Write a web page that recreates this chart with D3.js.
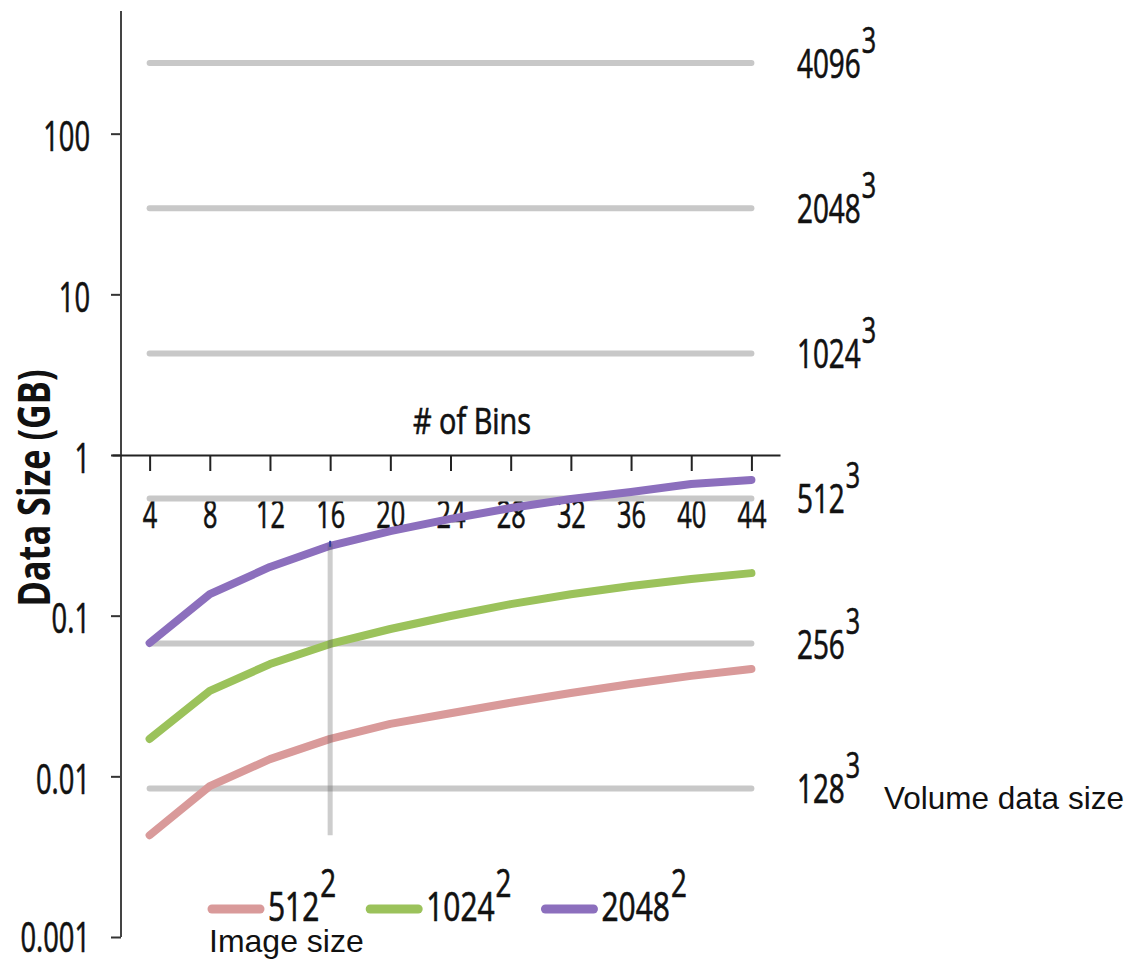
<!DOCTYPE html>
<html>
<head>
<meta charset="utf-8">
<script src="https://cdn.jsdelivr.net/npm/d3@7"></script>
<style>
  body { margin: 0; background: #fff; }
  svg { display: block; }
</style>
</head>
<body>
<div id="chart"></div>
<script>
// # of bins on the x axis
const bins = [4, 8, 12, 16, 20, 24, 28, 32, 36, 40, 44];

// histogram data size (GB) for each image size
const imageSizes = ['512', '1024', '2048'];
const size512  = [0.0043, 0.0087, 0.0128, 0.0171, 0.0212, 0.0247, 0.0287, 0.033, 0.0376, 0.0422, 0.0466];
const size1024 = [0.0171, 0.034, 0.050, 0.0667, 0.0826, 0.0995, 0.118, 0.136, 0.153, 0.169, 0.184];
const size2048 = [0.0676, 0.136, 0.201, 0.272, 0.336, 0.40, 0.468, 0.532, 0.588, 0.66, 0.70];
const seriesColors = ['#d99a9a', '#9bc25b', '#8c6fbd'];

// volume data sizes (GB), drawn as flat reference lines
const volumeLabels = ['128', '256', '512', '1024', '2048', '4096'];
const volumeGB = [0.0084, 0.067, 0.537, 4.29, 34.4, 275];

// y axis ticks
const yTicks = [0.001, 0.01, 0.1, 1, 10, 100];
const yTickLabels = ['0.001', '0.01', '0.1', '1', '10', '100'];

// vertical marker at 16 bins
const markBin = 16;
const markRange = [0.0043, 0.28];

const width = 1130, height = 959;
const condensed = '"Open Sans", "Noto Sans", sans-serif';

const svg = d3.select('#chart').append('svg')
    .attr('width', width)
    .attr('height', height);

const x = d3.scaleLinear().domain([1.5, 45.9]).range([112, 780]);
const y = d3.scaleLog().domain([0.001, 1000]).range([937, -27]);

// small helper: darker condensed digits like the original
function ink(sel) {
    return sel.attr('fill', '#111').attr('stroke', '#111').attr('stroke-width', 0.7);
}

// y axis
const yAxis = svg.append('g')
    .attr('transform', 'translate(121,0)')
    .call(d3.axisLeft(y).tickValues(yTicks).tickFormat((d, i) => yTickLabels[i]).tickSize(10).tickSizeOuter(0));
yAxis.select('.domain').remove();
yAxis.selectAll('.tick line').attr('stroke', '#333').attr('stroke-width', 2);
yAxis.selectAll('.tick text')
    .attr('font-family', condensed)
    .attr('font-size', 42)
    .attr('x', -47.7)
    .attr('dy', null)
    .attr('y', d => d === 0.001 ? 14 : 17)
    .attr('transform', 'scale(0.65,1)')
    .call(ink);
yAxis.append('line')
    .attr('x1', 0).attr('x2', 0)
    .attr('y1', y(580)).attr('y2', y(0.001))
    .attr('stroke', '#444').attr('stroke-width', 2);

// x axis drawn at 1 GB
const xAxis = svg.append('g')
    .attr('transform', `translate(0,${y(1)})`)
    .call(d3.axisBottom(x).tickValues(bins).tickSize(16).tickSizeOuter(0));
xAxis.select('.domain').attr('stroke', '#222').attr('stroke-width', 2);
xAxis.selectAll('.tick line').attr('stroke', '#222').attr('stroke-width', 2);
xAxis.selectAll('.tick text')
    .attr('font-family', condensed)
    .attr('font-size', 39)
    .attr('y', 73)
    .attr('dy', null)
    .attr('transform', 'scale(0.65,1)')
    .call(ink);

svg.append('text')
    .attr('transform', `translate(472,${y(1) - 21}) scale(0.78,1)`)
    .attr('text-anchor', 'middle')
    .attr('font-family', condensed)
    .attr('font-size', 37)
    .text('# of Bins')
    .call(ink);

// y axis title
svg.append('text')
    .attr('transform', 'translate(50,488) rotate(-90) scale(0.78,1)')
    .attr('text-anchor', 'middle')
    .attr('font-family', condensed)
    .attr('font-weight', 'bold')
    .attr('font-size', 44)
    .attr('fill', '#111')
    .text('Data Size (GB)');

// volume reference lines
svg.append('g').selectAll('line')
    .data(volumeGB)
    .enter().append('line')
    .attr('x1', x(bins[0])).attr('x2', x(bins[bins.length - 1]))
    .attr('y1', d => y(d)).attr('y2', d => y(d))
    .attr('stroke', '#c8c8c8')
    .attr('stroke-width', 6)
    .attr('stroke-linecap', 'round');

// superscripted labels (condensed digits)
function powerLabel(g, base, exp, px, py, size, supSize, supRise, sx) {
    const t = g.append('text')
        .attr('transform', `translate(${px},${py}) scale(${sx},1)`)
        .attr('font-family', condensed)
        .attr('font-size', size)
        .text(base)
        .call(ink);
    const w = t.node().getComputedTextLength() * sx;
    const s = g.append('text')
        .attr('transform', `translate(${px + w + 1},${py - supRise}) scale(${sx},1)`)
        .attr('font-family', condensed)
        .attr('font-size', supSize)
        .text(exp)
        .call(ink);
    return w + 1 + s.node().getComputedTextLength() * sx;
}

const rightLabels = svg.append('g');
volumeLabels.forEach((lab, i) => {
    powerLabel(rightLabels, lab, '3', 797, y(volumeGB[i]) + 15, 41, 37, 25, 0.68);
});

svg.append('text')
    .attr('x', 884)
    .attr('y', y(volumeGB[0]) + 21)
    .attr('font-family', '"Liberation Sans", Arial, sans-serif')
    .attr('font-size', 31.5)
    .attr('fill', '#111')
    .text('Volume data size');

// series lines
const series = [size512, size1024, size2048];
const line = d3.line()
    .x((d, i) => x(bins[i]))
    .y(d => y(d));

svg.append('g').selectAll('path')
    .data(series)
    .enter().append('path')
    .attr('d', line)
    .attr('fill', 'none')
    .attr('stroke', (d, i) => seriesColors[i])
    .attr('stroke-width', 8)
    .attr('stroke-linecap', 'round')
    .attr('stroke-linejoin', 'round');

// vertical marker
svg.append('line')
    .attr('x1', x(markBin)).attr('x2', x(markBin))
    .attr('y1', y(markRange[1])).attr('y2', y(markRange[0]))
    .attr('stroke', 'rgba(90,90,90,0.3)')
    .attr('stroke-width', 5);
svg.append('line')
    .attr('x1', x(markBin)).attr('x2', x(markBin))
    .attr('y1', y(markRange[1]) - 3).attr('y2', y(markRange[1]) + 3)
    .attr('stroke', '#2a3d9c')
    .attr('stroke-width', 2);

// legend
const legend = svg.append('g');
let lx = 212;
const legY = 909;
imageSizes.forEach((lab, i) => {
    legend.append('line')
        .attr('x1', lx).attr('x2', lx + 48)
        .attr('y1', legY).attr('y2', legY)
        .attr('stroke', seriesColors[i])
        .attr('stroke-width', 9)
        .attr('stroke-linecap', 'round');
    const w = powerLabel(legend, lab, '2', lx + 56, legY + 12, 41, 38, 24, 0.73);
    lx = lx + 56 + w + 34;
});

svg.append('text')
    .attr('x', 209)
    .attr('y', 952)
    .attr('font-family', '"Liberation Sans", Arial, sans-serif')
    .attr('font-size', 32)
    .attr('fill', '#111')
    .text('Image size');
</script>
</body>
</html>
